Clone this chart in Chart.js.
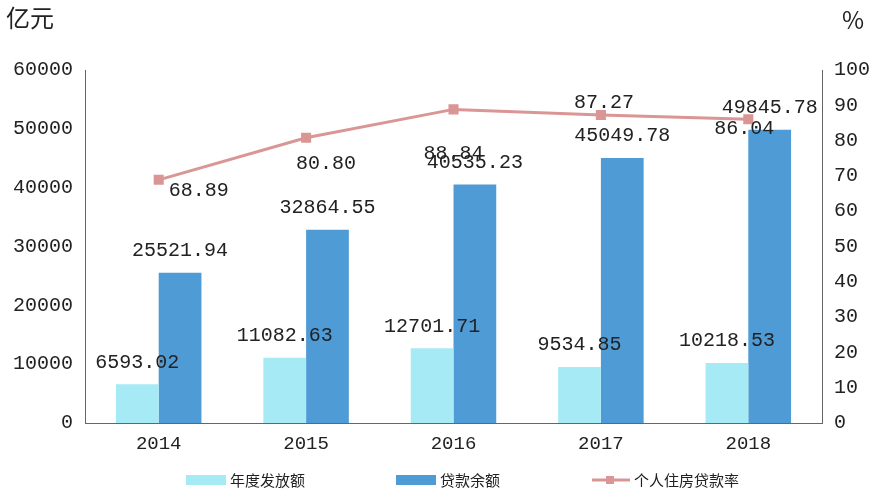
<!DOCTYPE html>
<html><head><meta charset="utf-8">
<script src="https://cdn.jsdelivr.net/npm/chart.js@4/dist/chart.umd.min.js"></script>
<style>body{margin:0;background:#fff}#w{width:884px;height:499px;position:relative}</style>
</head><body><div id="w"><canvas id="c"></canvas></div>
<script>
const categories=["2014","2015","2016","2017","2018"];
const annualIssued=[6593.02,11082.63,12701.71,9534.85,10218.53];
const loanBalance=[25521.94,32864.55,40535.23,45049.78,49845.78];
const loanRate=[68.89,80.80,88.84,87.27,86.04];
const seriesNames=["年度发放额","贷款余额","个人住房贷款率"];
const cLight="#a6eaf5",cDark="#4f9bd5",cLine="#d99694";
const rateOffsets=[[40,11],[20,26],[0,44],[3,-12],[-4,9]];
const FONT='"Liberation Mono", "Noto Sans CJK SC", monospace';
const labelPlugin={id:'lbl',afterDatasetsDraw(ch){
 const x=ch.ctx;x.save();x.fillStyle="#222";x.font='20px '+FONT;x.textAlign="center";x.textBaseline="middle";
 [0,1].forEach(d=>{ch.getDatasetMeta(d).data.forEach((e,i)=>{
   const v=ch.data.datasets[d].data[i];x.fillText(v.toFixed(2),e.x,e.y-22);});});
 ch.getDatasetMeta(2).data.forEach((e,i)=>{x.fillText(loanRate[i].toFixed(2),e.x+rateOffsets[i][0],e.y+rateOffsets[i][1]);});
 x.font='24px "Noto Sans CJK SC"';x.textAlign="left";x.fillText("亿元",6,18);
 x.textAlign="center";x.fillText("%",853,20);
 const y=480;x.font='15px "Noto Sans CJK SC"';x.textAlign="left";
 x.fillStyle=cLight;x.fillRect(186,y-5,40,10);x.fillStyle="#222";x.fillText(seriesNames[0],230,y);
 x.fillStyle=cDark;x.fillRect(396,y-5,40,10);x.fillStyle="#222";x.fillText(seriesNames[1],440,y);
 x.strokeStyle=cLine;x.lineWidth=3;x.beginPath();x.moveTo(592,y);x.lineTo(630,y);x.stroke();
 x.fillStyle=cLine;x.fillRect(606,y-4,8,8);x.fillStyle="#222";x.fillText(seriesNames[2],634,y);
 x.restore();}};
new Chart(document.getElementById('c'),{
 data:{labels:categories,datasets:[
  {type:'bar',label:seriesNames[0],data:annualIssued,backgroundColor:cLight,yAxisID:'y',categoryPercentage:0.58,barPercentage:1,order:2},
  {type:'bar',label:seriesNames[1],data:loanBalance,backgroundColor:cDark,yAxisID:'y',categoryPercentage:0.58,barPercentage:1,order:2},
  {type:'line',label:seriesNames[2],data:loanRate,borderColor:cLine,backgroundColor:cLine,borderWidth:3,pointStyle:'rect',pointRadius:5,yAxisID:'y1',order:1}]},
 options:{responsive:true,maintainAspectRatio:false,animation:false,
  layout:{padding:{top:70,bottom:40,left:0,right:0}},
  plugins:{legend:{display:false},tooltip:{enabled:false}},
  scales:{
   x:{grid:{display:false,drawTicks:false},border:{color:"#666"},ticks:{color:"#222",font:{family:FONT,size:19},padding:10},afterFit(s){s.height=36;}},
   y:{min:0,max:60000,ticks:{stepSize:10000,color:"#222",font:{family:FONT,size:20},padding:6,callback:v=>String(v)},grid:{display:false,drawTicks:true,tickLength:6,color:"#666"},border:{color:"#666"},afterFit(s){s.width=85;}},
   y1:{position:'right',min:0,max:100,ticks:{stepSize:10,color:"#222",font:{family:FONT,size:20},padding:6},grid:{display:false,drawTicks:true,tickLength:6,color:"#666"},border:{color:"#666"},afterFit(s){s.width=62;}}
  }},plugins:[labelPlugin]});
</script></body></html>
